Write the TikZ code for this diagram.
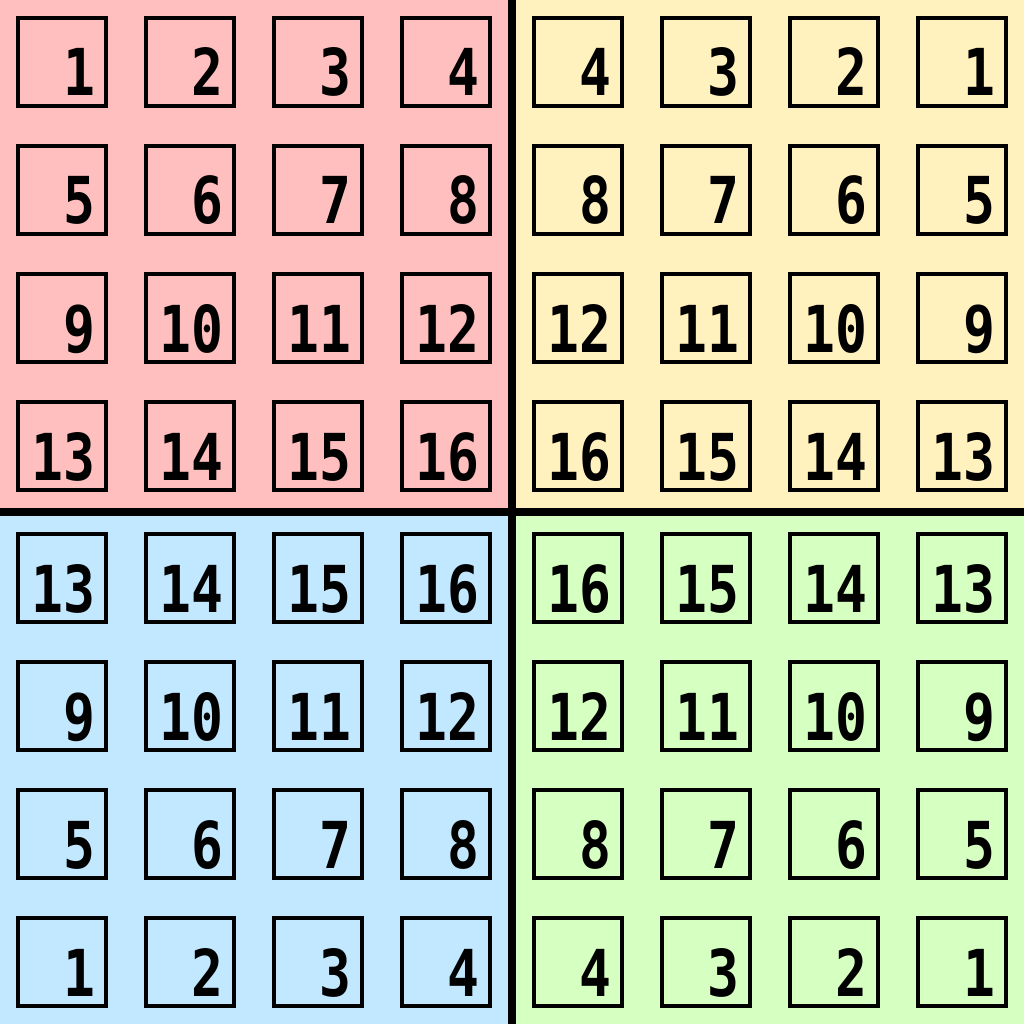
\documentclass[tikz,border=0pt]{standalone}
\usepackage{fontspec}
\setmainfont[FakeStretch=0.82]{DejaVu Sans Mono}
\usetikzlibrary{positioning}
\definecolor{redq}{RGB}{255,191,191}
\definecolor{yellowq}{RGB}{255,242,191}
\definecolor{blueq}{RGB}{194,232,255}
\definecolor{greenq}{RGB}{214,255,194}

\begin{document}
\begin{tikzpicture}[x=0.25mm, y=-0.25mm,
  cell/.style={rectangle, draw=black, line width=1mm, minimum size=22mm,
               inner sep=0pt, outer sep=0pt},
  num/.style={font=\fontsize{46}{46}\selectfont\bfseries, inner sep=0pt,
              anchor=base east},
  divider/.style={draw=black, line width=2mm}
]
\useasboundingbox (0,0) rectangle (1024,1024);

% quadrant backgrounds
\fill[redq]    (0,0)     rectangle (512,512);
\fill[yellowq] (512,0)   rectangle (1024,512);
\fill[blueq]   (0,512)   rectangle (512,1024);
\fill[greenq]  (512,512) rectangle (1024,1024);

% top left
\foreach \r in {0,...,3}
  \foreach \c in {0,...,3} {
    \pgfmathtruncatemacro{\n}{4*\r+\c+1}
    \node[cell] (tl-\r-\c) at (62+128*\c, 62+128*\r) {};
    \node[num] at ([shift={(-2.5mm,2.5mm)}]tl-\r-\c.south east) {\n};
  }

% top right (mirrored)
\foreach \r in {0,...,3}
  \foreach \c in {0,...,3} {
    \pgfmathtruncatemacro{\n}{4*\r+4-\c}
    \node[cell] (tr-\r-\c) at (578+128*\c, 62+128*\r) {};
    \node[num] at ([shift={(-2.5mm,2.5mm)}]tr-\r-\c.south east) {\n};
  }

% bottom left (flipped)
\foreach \r in {0,...,3}
  \foreach \c in {0,...,3} {
    \pgfmathtruncatemacro{\n}{4*(3-\r)+\c+1}
    \node[cell] (bl-\r-\c) at (62+128*\c, 578+128*\r) {};
    \node[num] at ([shift={(-2.5mm,2.5mm)}]bl-\r-\c.south east) {\n};
  }

% bottom right (both)
\foreach \r in {0,...,3}
  \foreach \c in {0,...,3} {
    \pgfmathtruncatemacro{\n}{4*(3-\r)+4-\c}
    \node[cell] (br-\r-\c) at (578+128*\c, 578+128*\r) {};
    \node[num] at ([shift={(-2.5mm,2.5mm)}]br-\r-\c.south east) {\n};
  }

% dividers
\draw[divider] (512,0) -- (512,1024);
\draw[divider] (0,512) -- (1024,512);
\end{tikzpicture}
\end{document}
